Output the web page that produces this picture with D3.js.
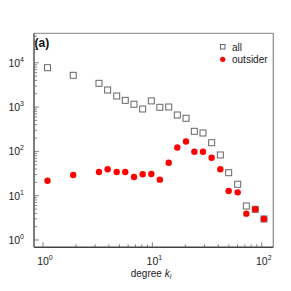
<!DOCTYPE html>
<html>
<head>
<meta charset="utf-8">
<script src="https://cdn.jsdelivr.net/npm/d3@7"></script>
<style>
  body { margin: 0; background: #fff; }
  text { font-family: "Liberation Sans", Arial, sans-serif; }
</style>
</head>
<body>
<svg id="mainsvg" width="291" height="291"></svg>
<script>
const degrees = [1.1, 1.89, 3.25, 3.9, 4.72, 5.65, 6.79, 8.15, 9.78, 11.7, 14.1, 16.9,
  20.3, 24.2, 29.0, 34.8, 41.8, 49.8, 60.2, 72.2, 87.2, 104.7];
const allCounts = [7750, 5220, 3440, 2430, 1780, 1420, 1160, 906, 1380, 990, 1005, 663,
  559, 284, 260, 157, 83, 33, 18.1, 5.85, 4.93, 2.98];
const outsiderCounts = [21.8, 29.3, 34.3, 39.4, 34.3, 34.3, 26.4, 30.4, 30.9, 23, 55.6, 122,
  167, 98.5, 98.5, 72, 39.4, 12.8, 11.9, 3.93, 4.93, 2.98];
const xTicks = [1, 10, 100];
const yTicks = [1, 10, 100, 1000, 10000];
const seriesNames = ["all", "outsider"];

const svg = d3.select("#mainsvg");
const plotL = 34, plotR = 273.3, plotT = 33.3, plotB = 247.3;

const x = d3.scaleLog().domain([0.828, 127.4]).range([plotL, plotR]);
const y = d3.scaleLog().domain([0.684, 46300]).range([plotB, plotT]);

// minor ticks
const xMinor = [];
for (let d = 1; d <= 100; d *= 10) for (let m = 1; m < 10; m++) if (d * m <= 127) xMinor.push(d * m);
const yMinor = [];
for (let d = 1; d <= 10000; d *= 10) for (let m = 1; m < 10; m++) if (d * m <= 46000) yMinor.push(d * m);

const g = svg.append("g");

// top + right frame, lighter
g.append("line").attr("x1", plotL).attr("x2", plotR).attr("y1", plotT).attr("y2", plotT)
  .style("stroke", "#999").style("stroke-width", 1.2);
g.append("line").attr("x1", plotR).attr("x2", plotR).attr("y1", plotT).attr("y2", plotB)
  .style("stroke", "#888").style("stroke-width", 1.2);

// ticks inward
xMinor.forEach(v => {
  const major = xTicks.includes(v);
  g.append("line").attr("x1", x(v)).attr("x2", x(v))
    .attr("y1", plotB).attr("y2", plotB - (major ? 5 : 3))
    .style("stroke", "#666").style("stroke-width", 0.8);
});
yMinor.forEach(v => {
  const major = yTicks.includes(v);
  g.append("line").attr("y1", y(v)).attr("y2", y(v))
    .attr("x1", plotL).attr("x2", plotL + (major ? 5 : 3))
    .style("stroke", "#666").style("stroke-width", 0.8);
});

// bottom + left axis lines
g.append("line").attr("x1", plotL).attr("x2", plotR).attr("y1", plotB).attr("y2", plotB)
  .style("stroke", "#444").style("stroke-width", 1.5);
g.append("line").attr("x1", plotL).attr("x2", plotL).attr("y1", plotT).attr("y2", plotB)
  .style("stroke", "#555").style("stroke-width", 1.5);

// tick labels
function powLabel(sel, v) {
  const e = Math.round(Math.log10(v));
  sel.append("tspan").text("10");
  sel.append("tspan").attr("dy", -5).style("font-size", "7px").text(e);
}
xTicks.forEach(v => {
  const t = g.append("text").attr("x", x(v) + 2).attr("y", 265)
    .attr("text-anchor", "middle").style("font-size", "10.5px").style("fill", "#222");
  powLabel(t, v);
});
yTicks.forEach(v => {
  const t = g.append("text").attr("x", 24).attr("y", y(v) + 4)
    .attr("text-anchor", "end").style("font-size", "10.5px").style("fill", "#222");
  powLabel(t, v);
});

// axis title
const xl = g.append("text").attr("x", 151).attr("y", 277).attr("text-anchor", "middle")
  .style("font-size", "10px").style("fill", "#222");
xl.append("tspan").text("degree ");
xl.append("tspan").style("font-style", "italic").text("k");
xl.append("tspan").style("font-style", "italic").style("font-size", "7px").attr("dy", 2).text("i");

// panel tag
g.append("text").attr("x", 34.5).attr("y", 47).style("font-size", "12px")
  .style("font-weight", "bold").style("fill", "#111").text("(a)");

// series
const pts = degrees.map((d, i) => ({k: d, all: allCounts[i], out: outsiderCounts[i]}));
g.selectAll(".sq").data(pts).enter().append("rect")
  .attr("x", d => x(d.k) - 3).attr("y", d => y(d.all) - 3)
  .attr("width", 6).attr("height", 6)
  .style("fill", "none").style("stroke", "#666").style("stroke-width", 1);
g.selectAll(".dot").data(pts).enter().append("circle")
  .attr("cx", d => x(d.k)).attr("cy", d => y(d.out)).attr("r", 3.2)
  .style("fill", "#f00");

// legend
g.append("rect").attr("x", 220.5).attr("y", 44.5).attr("width", 4.5).attr("height", 4.5)
  .style("fill", "none").style("stroke", "#666").style("stroke-width", 1);
g.append("circle").attr("cx", 222.7).attr("cy", 59.3).attr("r", 2.6).style("fill", "#f00");
seriesNames.forEach((s, i) => {
  g.append("text").attr("x", 232).attr("y", 50.5 + i * 12.7)
    .style("font-size", "10px").style("fill", "#222").text(s);
});
</script>
</body>
</html>
